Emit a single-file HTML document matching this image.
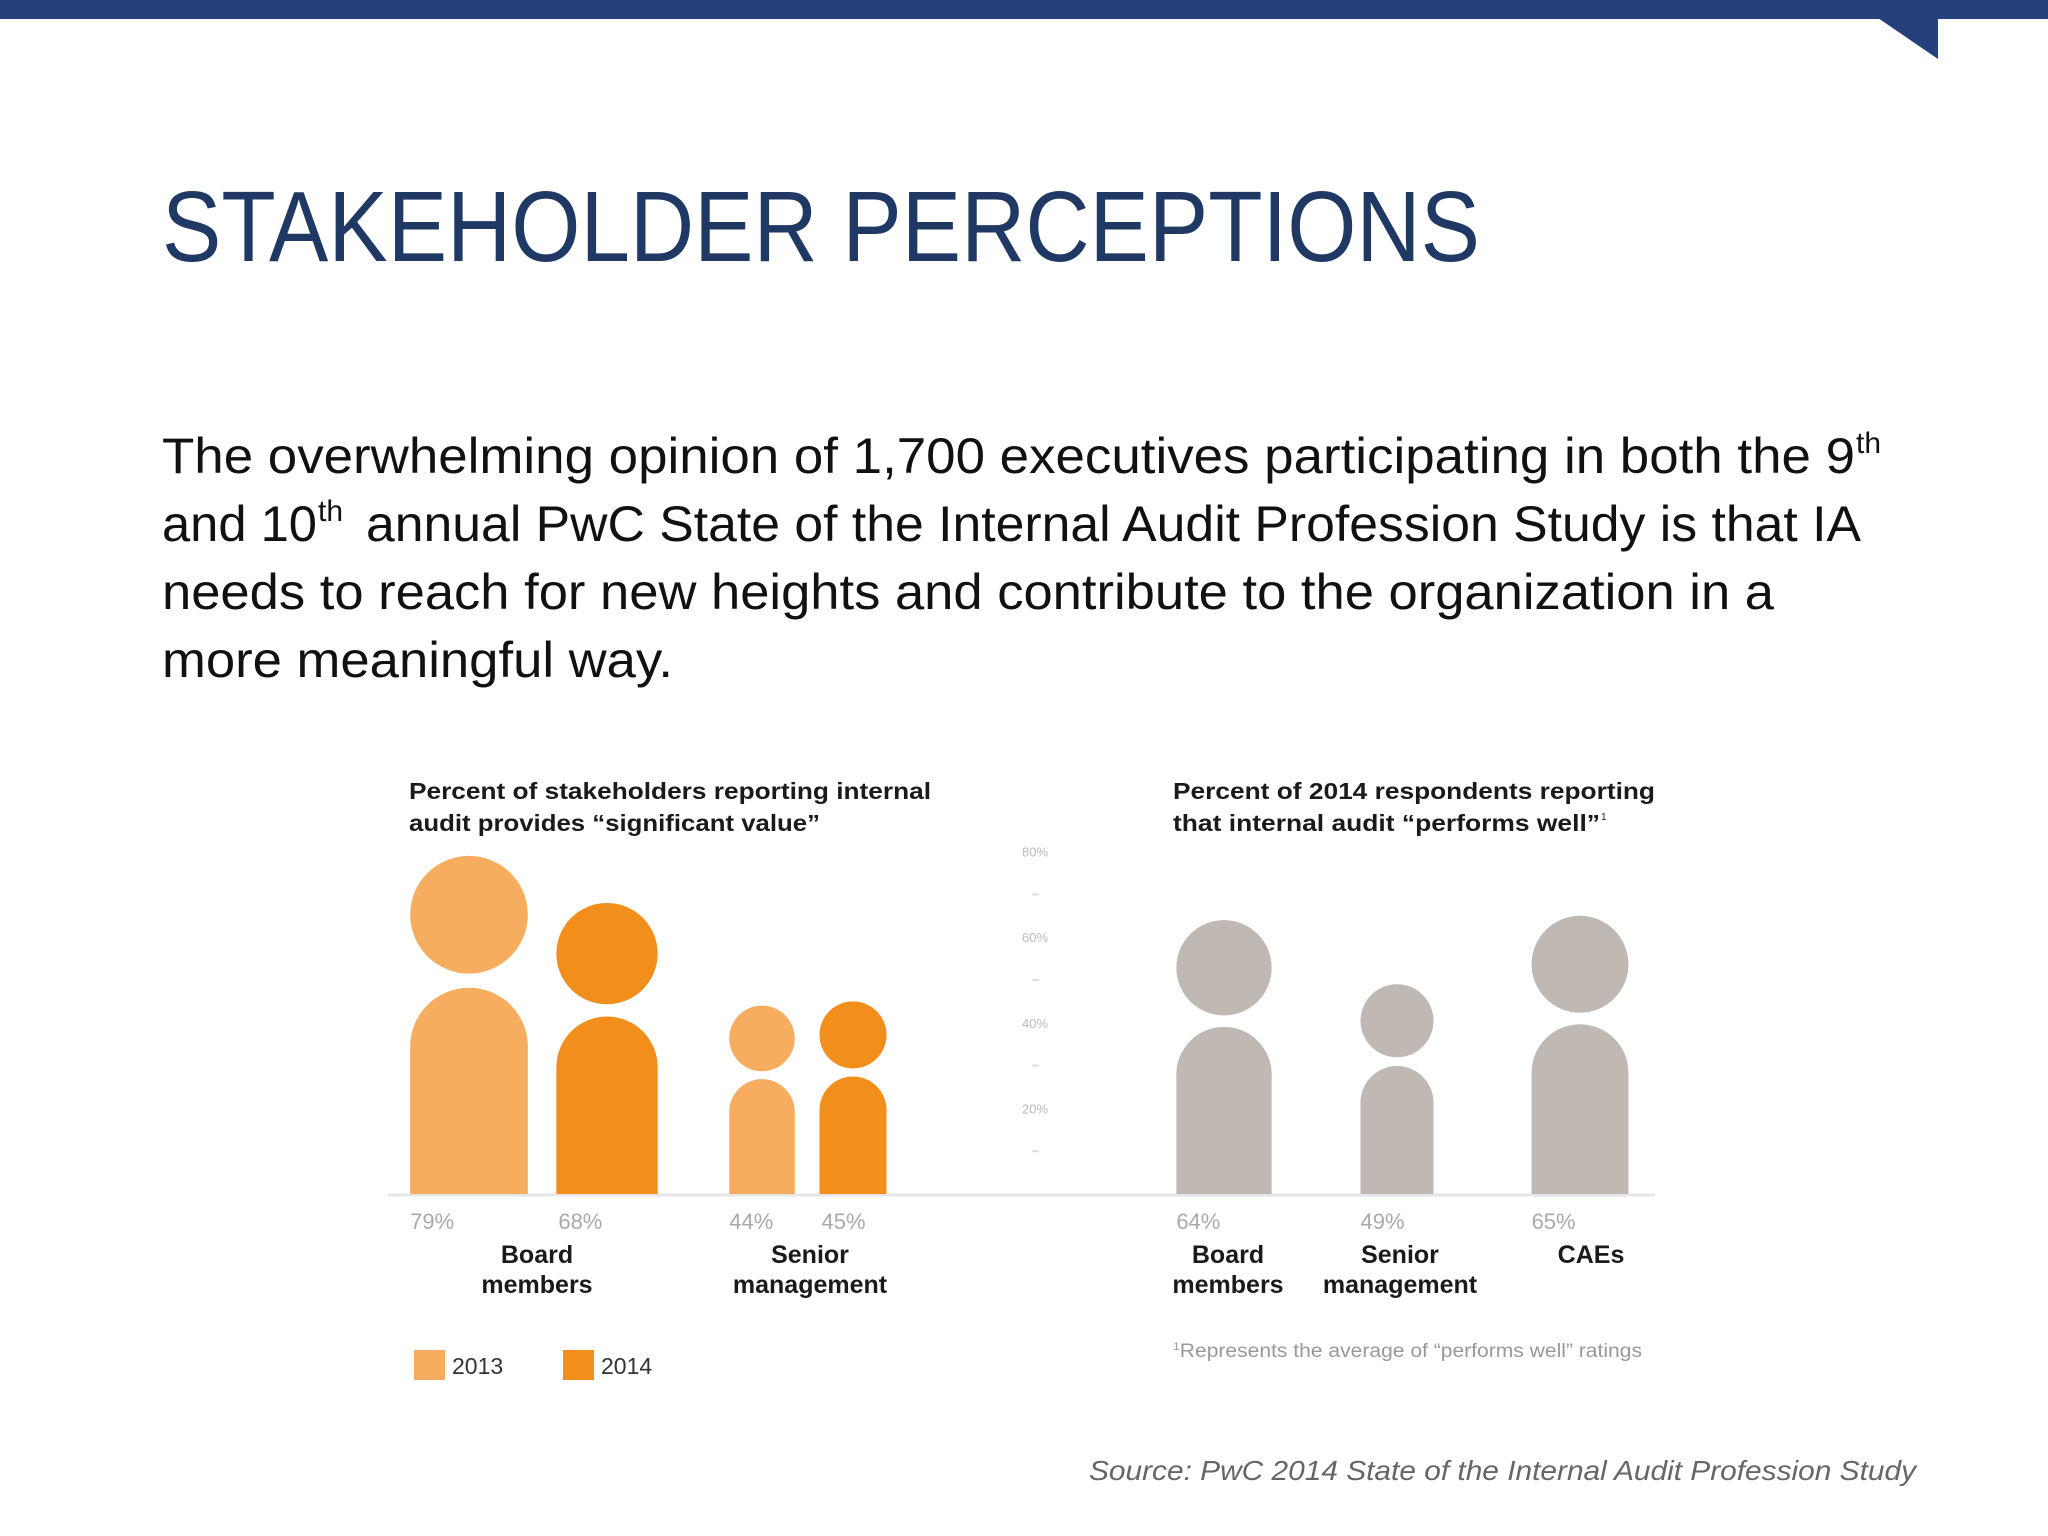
<!DOCTYPE html>
<html><head><meta charset="utf-8"><style>
html,body{margin:0;padding:0;background:#fff;}
svg{display:block;font-family:"Liberation Sans",sans-serif;}
</style></head><body>
<svg id="s" width="2048" height="1536" viewBox="0 0 2048 1536">
<rect x="0" y="0" width="2048" height="19" fill="#25407a"/>
<polygon points="1878,18 1938,18 1938,59" fill="#25407a"/>
<text x="162" y="261" font-size="100" fill="#1f3864" textLength="1318" lengthAdjust="spacingAndGlyphs">STAKEHOLDER PERCEPTIONS</text>
<g fill="#111" font-size="50">
<text x="162" y="473" textLength="1693" lengthAdjust="spacingAndGlyphs">The overwhelming opinion of 1,700 executives participating in both the 9</text>
<text x="1856" y="453" font-size="30">th</text>
<text x="162" y="541" textLength="155" lengthAdjust="spacingAndGlyphs">and 10</text>
<text x="318" y="521" font-size="30">th</text>
<text x="366" y="541" textLength="1495" lengthAdjust="spacingAndGlyphs">annual PwC State of the Internal Audit Profession Study is that IA</text>
<text x="162" y="609" textLength="1612" lengthAdjust="spacingAndGlyphs">needs to reach for new heights and contribute to the organization in a</text>
<text x="162" y="677" textLength="511" lengthAdjust="spacingAndGlyphs">more meaningful way.</text>
</g>
<g font-weight="bold" font-size="23" fill="#1a1a1a">
<text x="409" y="799" textLength="522" lengthAdjust="spacingAndGlyphs">Percent of stakeholders reporting internal</text>
<text x="409" y="831" textLength="411" lengthAdjust="spacingAndGlyphs">audit provides “significant value”</text>
<text x="1173" y="799" textLength="482" lengthAdjust="spacingAndGlyphs">Percent of 2014 respondents reporting</text>
<text x="1173" y="831" textLength="427" lengthAdjust="spacingAndGlyphs">that internal audit “performs well”</text>
<text x="1601" y="820" font-size="10" font-weight="normal">1</text>
</g>
<line x1="388" y1="1195" x2="1655" y2="1195" stroke="#e6e6e6" stroke-width="3"/>
<g id="axis"></g>
<g id="figs"></g>
<g id="labels"></g>
<rect x="414" y="1350" width="31" height="30" fill="#f7ad5f"/>
<text x="452" y="1374" font-size="23" fill="#333">2013</text>
<rect x="563" y="1350" width="31" height="30" fill="#f28e1c"/>
<text x="601" y="1374" font-size="23" fill="#333">2014</text>
<text x="1173" y="1357" font-size="19" fill="#999" textLength="469" lengthAdjust="spacingAndGlyphs"><tspan font-size="11" dy="-7">1</tspan><tspan dy="7">Represents the average of “performs well” ratings</tspan></text>
<text x="1916" y="1480" font-size="28" font-style="italic" fill="#666" text-anchor="end" textLength="827" lengthAdjust="spacingAndGlyphs">Source: PwC 2014 State of the Internal Audit Profession Study</text>
</svg>
<script>
const c1Values2013 = [79, 44];
const c1Values2014 = [68, 45];
const c1Labels = ["79%", "44%"];
const c1Labels2014 = ["68%", "45%"];
const c1Categories = [["Board","members"],["Senior","management"]];
const c2Values = [64, 49, 65];
const c2Categories = [["Board","members"],["Senior","management"],["CAEs"]];
const yTicks = [80, 60, 40, 20];
const yTickLabels = ["80%", "60%", "40%", "20%"];

const NS = "http://www.w3.org/2000/svg";
const base = 1194;
const pxPer = 4.28;
function yScale(v){ return base - v * pxPer; }
function wScale(v){ return v * 1.49; }
const c1Centers = [[469, 607],[762, 853]];
const c1CatX = [537, 810];
const c2Centers = [1224, 1397, 1580];
const c2CatX = [1228, 1400, 1591];

function mk(tag, attrs, parent){
  const e = document.createElementNS(NS, tag);
  for (const k in attrs) e.setAttribute(k, attrs[k]);
  parent.appendChild(e);
  return e;
}
const figs = document.getElementById('figs');
const labels = document.getElementById('labels');
const axis = document.getElementById('axis');

function person(cx, v, color, name){
  const g = mk('g', {}, figs);
  
  
  const w = wScale(v), r = w / 2;
  const top = yScale(v);
  const gap = w * 0.12;
  mk('circle', {cx: cx, cy: top + r, r: r, fill: color}, g);
  const bt = top + w + gap;
  const d = `M${cx - r},${base} L${cx - r},${bt + r} A${r},${r} 0 0 1 ${cx + r},${bt + r} L${cx + r},${base} Z`;
  mk('path', {d: d, fill: color}, g);
}
function valText(x, txt, name){
  const t = mk('text', {x: x, y: 1229, 'font-size': 22, fill: '#aaa'}, labels);
  t.textContent = txt;
  
  
}
function catText(x, lines, name){
  lines.forEach((l, i) => {
    const t = mk('text', {x: x, y: 1263 + i * 30, 'font-size': 25, 'font-weight': 'bold', fill: '#1a1a1a', 'text-anchor': 'middle'}, labels);
    t.textContent = l;
    
    
  });
}
c1Values2013.forEach((v, i) => {
  const cx = c1Centers[i][0];
  person(cx, v, '#f7ad5f', 'figure-2013-' + i);
  valText(cx - wScale(v) / 2, c1Labels[i], 'value-2013-' + i);
});
c1Values2014.forEach((v, i) => {
  const cx = c1Centers[i][1];
  person(cx, v, '#f28e1c', 'figure-2014-' + i);
  valText(cx - wScale(v) / 2 + 2, c1Labels2014[i], 'value-2014-' + i);
});
c1Categories.forEach((c, i) => catText(c1CatX[i], c, 'chart1-category-label'));
c2Values.forEach((v, i) => {
  const cx = c2Centers[i];
  person(cx, v, '#bfb8b3', 'figure-performs-well-' + i);
  valText(cx - wScale(v) / 2, v + '%', 'value-performs-well-' + i);
});
c2Categories.forEach((c, i) => catText(c2CatX[i], c, 'chart2-category-label'));
yTicks.forEach((v, i) => {
  const t = mk('text', {x: 1035, y: yScale(v) + 5, 'font-size': 13, fill: '#bbb', 'text-anchor': 'middle'}, axis);
  t.textContent = yTickLabels[i];
  
  
  const ty = yScale(v - 10);
  const l = mk('line', {x1: 1032, x2: 1039, y1: ty, y2: ty, stroke: '#ddd', 'stroke-width': 2}, axis);
  
  
});
</script>
</body></html>
